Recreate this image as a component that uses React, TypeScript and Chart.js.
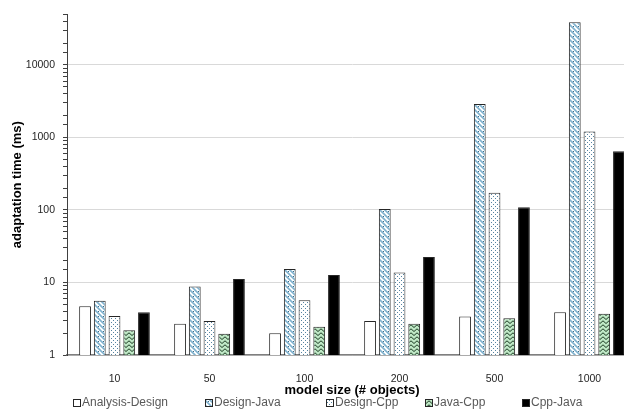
import React, { useEffect, useRef } from 'react';
import { Chart, registerables } from 'chart.js';

Chart.register(...registerables);

const categories = ['10', '50', '100', '200', '500', '1000'];
const seriesNames = ['Analysis-Design', 'Design-Java', 'Design-Cpp', 'Java-Cpp', 'Cpp-Java'];
const analysisDesign = [4.7, 2.7, 2.0, 2.95, 3.4, 3.9];
const designJava = [5.6, 8.8, 15.4, 103, 2900, 38800];
const designCpp = [3.45, 2.95, 5.7, 13.7, 173, 1210];
const javaCpp = [2.2, 1.96, 2.45, 2.7, 3.2, 3.7];
const cppJava = [3.9, 11.2, 12.7, 22.5, 109, 645];
const yMin = 1;
const yMax = 50000;
const yTickLabels = [1, 10, 100, 1000, 10000];
const xTitle = 'model size (# objects)';
const yTitle = 'adaptation time (ms)';

const FONT = '"Liberation Sans", Arial, sans-serif';

function makePattern(kind: string): CanvasPattern | string {
  const c = document.createElement('canvas');
  const ctx = c.getContext('2d');
  if (!ctx) return '#fff';
  if (kind === 'diag') {
    c.width = 5; c.height = 5;
    ctx.fillStyle = '#ffffff';
    ctx.fillRect(0, 0, 5, 5);
    ctx.strokeStyle = '#7fb2cf';
    ctx.lineWidth = 1.6;
    ctx.beginPath();
    ctx.moveTo(-1, -1); ctx.lineTo(6, 6);
    ctx.moveTo(-1, 4); ctx.lineTo(1, 6);
    ctx.moveTo(4, -1); ctx.lineTo(6, 1);
    ctx.stroke();
    ctx.fillStyle = '#3c6a85';
    ctx.fillRect(3, 1, 1, 1);
  } else if (kind === 'dots') {
    c.width = 4; c.height = 4;
    ctx.fillStyle = '#ffffff';
    ctx.fillRect(0, 0, 4, 4);
    ctx.fillStyle = '#5583a0';
    ctx.fillRect(1, 0, 1, 1);
    ctx.fillRect(3, 2, 1, 1);
  } else if (kind === 'zigzag') {
    c.width = 6; c.height = 4;
    ctx.fillStyle = '#bfe8c6';
    ctx.fillRect(0, 0, 6, 4);
    ctx.strokeStyle = '#1d3d24';
    ctx.lineWidth = 1;
    ctx.beginPath();
    ctx.moveTo(0, 3.5); ctx.lineTo(3, 0.8); ctx.lineTo(6, 3.5);
    ctx.stroke();
  }
  const p = ctx.createPattern(c, 'repeat');
  return p || '#fff';
}

export default function App() {
  const canvasRef = useRef<HTMLCanvasElement | null>(null);

  useEffect(() => {
    document.body.style.margin = '0';
    document.body.style.overflow = 'hidden';
    document.documentElement.style.overflow = 'hidden';
    const canvas = canvasRef.current;
    if (!canvas) return;

    const fills: (CanvasPattern | string)[] = [
      '#ffffff',
      makePattern('diag'),
      makePattern('dots'),
      makePattern('zigzag'),
      '#000000',
    ];
    const values = [analysisDesign, designJava, designCpp, javaCpp, cppJava];

    const legendX = [73, 205, 326, 425, 522];

    const decorPlugin = {
      id: 'decor',
      afterDraw(chart: any) {
        const ctx = chart.ctx as CanvasRenderingContext2D;
        const area = chart.chartArea;
        ctx.save();
        ctx.fillStyle = '#000000';
        ctx.font = `bold 13px ${FONT}`;
        ctx.textAlign = 'center';
        ctx.textBaseline = 'middle';
        ctx.translate(17, (area.top + area.bottom) / 2);
        ctx.rotate(-Math.PI / 2);
        ctx.fillText(yTitle, 0, 0);
        ctx.restore();

        ctx.save();
        ctx.fillStyle = '#000000';
        ctx.font = `bold 13px ${FONT}`;
        ctx.textAlign = 'center';
        ctx.textBaseline = 'middle';
        ctx.fillText(xTitle, (area.left + area.right) / 2, 390);
        ctx.restore();

        ctx.save();
        const ly = 403;
        seriesNames.forEach((name, i) => {
          const x = legendX[i];
          ctx.fillStyle = fills[i] as any;
          ctx.fillRect(x, ly - 4, 8, 8);
          ctx.strokeStyle = '#262626';
          ctx.lineWidth = 1;
          ctx.strokeRect(x + 0.5, ly - 3.5, 7, 7);
          ctx.fillStyle = '#595959';
          ctx.font = `12px ${FONT}`;
          ctx.textAlign = 'left';
          ctx.textBaseline = 'middle';
          ctx.fillText(name, x + 9, ly);
        });
        ctx.restore();
      },
    };

    const chart = new Chart(canvas, {
      type: 'bar',
      data: {
        labels: categories,
        datasets: seriesNames.map((name, i) => ({
          label: name,
          data: values[i],
          backgroundColor: fills[i] as any,
          borderColor: '#262626',
          borderWidth: 1,
          barPercentage: 0.8,
          categoryPercentage: 0.775,
        })),
      },
      options: {
        responsive: false,
        animation: false,
        devicePixelRatio: 1,
        layout: { padding: { top: 12, right: 3, left: 0, bottom: 0 } },
        plugins: {
          legend: { display: false },
          tooltip: { enabled: false },
          title: { display: false },
        },
        scales: {
          x: {
            grid: { display: false },
            border: { display: true, color: '#7f7f7f', width: 1.5 },
            ticks: {
              padding: 10,
              color: '#262626',
              font: { family: FONT, size: 10.5 },
            },
            afterFit: (scale: any) => { scale.height = 57; },
          },
          y: {
            type: 'logarithmic',
            min: yMin,
            max: yMax,
            border: { display: true, color: '#404040', width: 1 },
            grid: {
              color: (ctx: any) =>
                ctx.tick && yTickLabels.includes(ctx.tick.value) ? '#d9d9d9' : 'rgba(0,0,0,0)',
              tickColor: '#404040',
              tickLength: 4,
              drawTicks: true,
            },
            ticks: {
              autoSkip: false,
              padding: 8,
              color: '#262626',
              font: { family: FONT, size: 10.5 },
              callback: (value: any) => (yTickLabels.includes(Number(value)) ? String(value) : ''),
            },
            afterFit: (scale: any) => { scale.width = 67; },
          },
        },
      },
      plugins: [decorPlugin],
    } as any);

    return () => chart.destroy();
  }, []);

  return (
    <div style={{ width: 624, height: 412, overflow: 'hidden', position: 'relative' }}>
      <canvas ref={canvasRef} width={640} height={412} style={{ display: 'block' }} />
    </div>
  );
}
